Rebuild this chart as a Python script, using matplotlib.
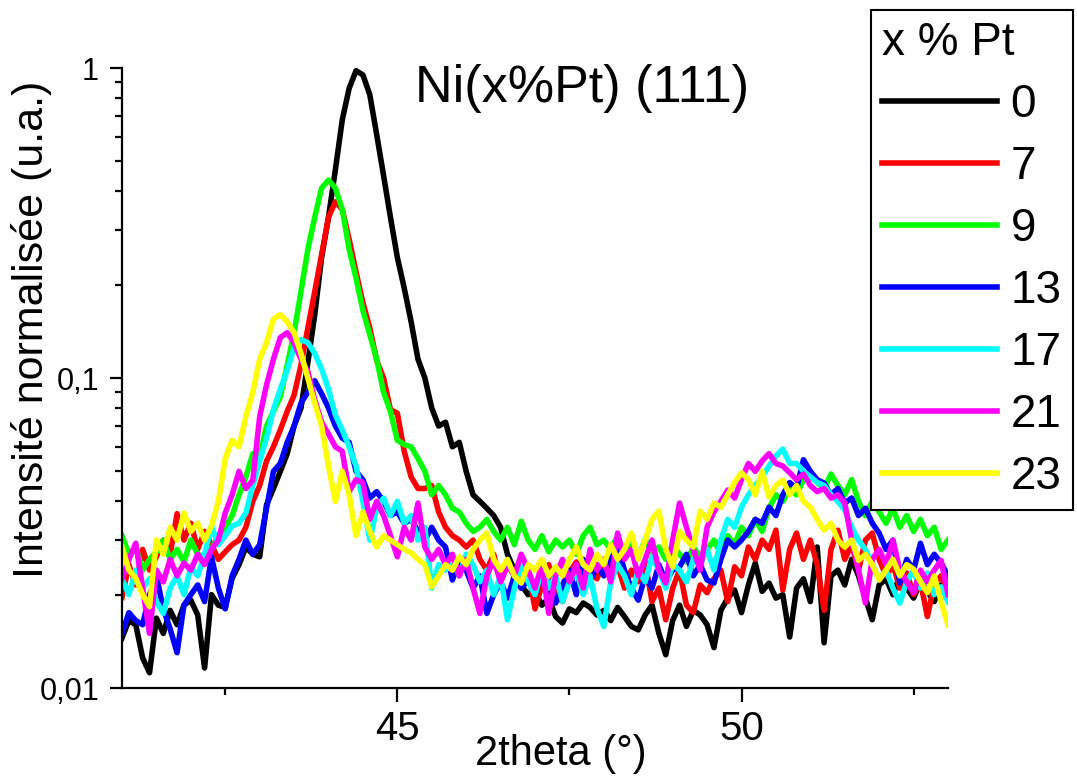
import numpy as np
import matplotlib
matplotlib.use("Agg")
import matplotlib.pyplot as plt
from matplotlib.ticker import FixedLocator, FixedFormatter, LogLocator, NullFormatter

plt.rcParams['font.family'] = ['Liberation Sans', 'DejaVu Sans']

# 2theta grid (deg), 41.0 -> 53.0 step 0.1
two_theta = np.round(np.linspace(41.0, 53.0, 121), 1)

# normalised intensities, one list per Pt content
i_0 = [0.0145, 0.0165, 0.0160, 0.0125, 0.0112, 0.0168, 0.0150, 0.0178, 0.0160, 0.0185,
       0.0192, 0.0172, 0.0116, 0.0200, 0.0185, 0.0182, 0.0226, 0.0250, 0.0285, 0.0270,
       0.0265, 0.0390, 0.0440, 0.0500, 0.0570, 0.0700, 0.0800, 0.1120, 0.1600, 0.2450,
       0.3300, 0.4700, 0.6800, 0.8600, 0.9800, 0.9500, 0.8200, 0.6100, 0.4500, 0.3300,
       0.2450, 0.1950, 0.1520, 0.1150, 0.1000, 0.0800, 0.0700, 0.0720, 0.0600, 0.0620,
       0.0500, 0.0420, 0.0400, 0.0380, 0.0360, 0.0330, 0.0270, 0.0240, 0.0215, 0.0200,
       0.0205, 0.0185, 0.0195, 0.0170, 0.0162, 0.0180, 0.0175, 0.0188, 0.0182, 0.0172,
       0.0178, 0.0165, 0.0182, 0.0170, 0.0158, 0.0154, 0.0172, 0.0185, 0.0150, 0.0128,
       0.0165, 0.0185, 0.0158, 0.0178, 0.0172, 0.0160, 0.0135, 0.0178, 0.0195, 0.0207,
       0.0175, 0.0215, 0.0253, 0.0205, 0.0218, 0.0195, 0.0200, 0.0146, 0.0210, 0.0225,
       0.0190, 0.0285, 0.0140, 0.0230, 0.0240, 0.0215, 0.0260, 0.0230, 0.0195, 0.0166,
       0.0215, 0.0225, 0.0200, 0.0230, 0.0210, 0.0195, 0.0220, 0.0205, 0.0190, 0.0215,
       0.0200]

i_7 = [0.0196, 0.0250, 0.0215, 0.0280, 0.0240, 0.0265, 0.0300, 0.0270, 0.0365, 0.0300,
       0.0340, 0.0280, 0.0320, 0.0290, 0.0260, 0.0275, 0.0290, 0.0300, 0.0330, 0.0400,
       0.0450, 0.0540, 0.0600, 0.0680, 0.0780, 0.0880, 0.1100, 0.1450, 0.1900, 0.2500,
       0.3300, 0.3700, 0.3500, 0.2800, 0.2200, 0.1750, 0.1450, 0.1140, 0.1000, 0.0790,
       0.0770, 0.0580, 0.0480, 0.0440, 0.0440, 0.0450, 0.0370, 0.0330, 0.0310, 0.0300,
       0.0285, 0.0300, 0.0260, 0.0240, 0.0270, 0.0220, 0.0250, 0.0230, 0.0210, 0.0240,
       0.0180, 0.0215, 0.0250, 0.0200, 0.0190, 0.0235, 0.0255, 0.0215, 0.0240, 0.0225,
       0.0260, 0.0230, 0.0250, 0.0210, 0.0240, 0.0220, 0.0255, 0.0190, 0.0210, 0.0166,
       0.0210, 0.0240, 0.0185, 0.0175, 0.0215, 0.0203, 0.0225, 0.0240, 0.0190, 0.0246,
       0.0230, 0.0285, 0.0260, 0.0300, 0.0280, 0.0323, 0.0207, 0.0280, 0.0316, 0.0260,
       0.0300, 0.0250, 0.0178, 0.0280, 0.0323, 0.0260, 0.0290, 0.0240, 0.0300, 0.0316,
       0.0260, 0.0230, 0.0250, 0.0210, 0.0235, 0.0200, 0.0220, 0.0170, 0.0215, 0.0230,
       0.0205]

i_9 = [0.0310, 0.0270, 0.0285, 0.0240, 0.0260, 0.0275, 0.0300, 0.0260, 0.0280, 0.0255,
       0.0300, 0.0270, 0.0265, 0.0280, 0.0310, 0.0330, 0.0360, 0.0420, 0.0480, 0.0570,
       0.0560, 0.0700, 0.0780, 0.0870, 0.1100, 0.1400, 0.1900, 0.2600, 0.3300, 0.4100,
       0.4350, 0.4100, 0.3500, 0.2600, 0.2100, 0.1650, 0.1380, 0.1150, 0.0900, 0.0780,
       0.0630, 0.0610, 0.0600, 0.0550, 0.0500, 0.0420, 0.0450, 0.0420, 0.0380, 0.0370,
       0.0340, 0.0320, 0.0330, 0.0350, 0.0320, 0.0300, 0.0330, 0.0290, 0.0345, 0.0300,
       0.0280, 0.0310, 0.0275, 0.0300, 0.0285, 0.0300, 0.0270, 0.0310, 0.0330, 0.0290,
       0.0300, 0.0280, 0.0310, 0.0270, 0.0290, 0.0265, 0.0300, 0.0275, 0.0285, 0.0260,
       0.0290, 0.0270, 0.0255, 0.0285, 0.0265, 0.0280, 0.0300, 0.0270, 0.0310, 0.0290,
       0.0330, 0.0310, 0.0350, 0.0320, 0.0380, 0.0420, 0.0400, 0.0440, 0.0420, 0.0470,
       0.0500, 0.0460, 0.0440, 0.0490, 0.0450, 0.0420, 0.0470, 0.0400, 0.0360, 0.0400,
       0.0370, 0.0340, 0.0380, 0.0330, 0.0360, 0.0320, 0.0350, 0.0310, 0.0330, 0.0280,
       0.0300]

i_13 = [0.0150, 0.0175, 0.0165, 0.0160, 0.0200, 0.0230, 0.0180, 0.0155, 0.0130, 0.0185,
        0.0200, 0.0215, 0.0190, 0.0265, 0.0210, 0.0180, 0.0230, 0.0260, 0.0300, 0.0270,
        0.0290, 0.0380, 0.0500, 0.0530, 0.0620, 0.0700, 0.0830, 0.0900, 0.0980, 0.0890,
        0.0800, 0.0700, 0.0640, 0.0620, 0.0500, 0.0470, 0.0410, 0.0430, 0.0400, 0.0360,
        0.0370, 0.0340, 0.0350, 0.0320, 0.0300, 0.0330, 0.0300, 0.0285, 0.0223, 0.0260,
        0.0240, 0.0210, 0.0230, 0.0174, 0.0200, 0.0220, 0.0195, 0.0230, 0.0210, 0.0223,
        0.0200, 0.0240, 0.0210, 0.0188, 0.0215, 0.0240, 0.0200, 0.0260, 0.0220, 0.0250,
        0.0230, 0.0260, 0.0285, 0.0240, 0.0210, 0.0192, 0.0230, 0.0210, 0.0250, 0.0220,
        0.0240, 0.0246, 0.0270, 0.0230, 0.0250, 0.0223, 0.0218, 0.0260, 0.0300, 0.0285,
        0.0300, 0.0320, 0.0350, 0.0340, 0.0383, 0.0360, 0.0420, 0.0460, 0.0440, 0.0545,
        0.0500, 0.0470, 0.0458, 0.0420, 0.0440, 0.0395, 0.0410, 0.0360, 0.0380, 0.0340,
        0.0316, 0.0280, 0.0300, 0.0218, 0.0260, 0.0240, 0.0293, 0.0250, 0.0270, 0.0253,
        0.0230]

i_17 = [0.0225, 0.0200, 0.0240, 0.0210, 0.0225, 0.0190, 0.0174, 0.0210, 0.0230, 0.0200,
        0.0245, 0.0230, 0.0270, 0.0333, 0.0290, 0.0310, 0.0333, 0.0340, 0.0367, 0.0450,
        0.0540, 0.0640, 0.0790, 0.0920, 0.1060, 0.1250, 0.1330, 0.1300, 0.1200, 0.1070,
        0.0920, 0.0760, 0.0680, 0.0600, 0.0520, 0.0400, 0.0300, 0.0380, 0.0410, 0.0360,
        0.0400, 0.0340, 0.0360, 0.0300, 0.0330, 0.0210, 0.0250, 0.0240, 0.0260, 0.0230,
        0.0270, 0.0250, 0.0220, 0.0240, 0.0200, 0.0230, 0.0166, 0.0210, 0.0250, 0.0220,
        0.0200, 0.0240, 0.0210, 0.0230, 0.0190, 0.0220, 0.0240, 0.0200, 0.0230, 0.0180,
        0.0158, 0.0220, 0.0250, 0.0230, 0.0200, 0.0240, 0.0220, 0.0265, 0.0240, 0.0210,
        0.0250, 0.0240, 0.0220, 0.0260, 0.0250, 0.0280, 0.0240, 0.0300, 0.0350, 0.0330,
        0.0383, 0.0420, 0.0450, 0.0480, 0.0520, 0.0560, 0.0590, 0.0530, 0.0530, 0.0500,
        0.0480, 0.0460, 0.0450, 0.0420, 0.0400, 0.0375, 0.0330, 0.0300, 0.0280, 0.0250,
        0.0224, 0.0240, 0.0210, 0.0188, 0.0220, 0.0240, 0.0210, 0.0235, 0.0200, 0.0212,
        0.0190]

i_21 = [0.0225, 0.0260, 0.0293, 0.0210, 0.0150, 0.0240, 0.0220, 0.0260, 0.0230, 0.0253,
        0.0240, 0.0270, 0.0250, 0.0280, 0.0300, 0.0367, 0.0420, 0.0500, 0.0440, 0.0468,
        0.0750, 0.0950, 0.1150, 0.1350, 0.1400, 0.1300, 0.1150, 0.1050, 0.0850, 0.0720,
        0.0660, 0.0600, 0.0580, 0.0430, 0.0470, 0.0460, 0.0350, 0.0400, 0.0360, 0.0310,
        0.0265, 0.0330, 0.0300, 0.0395, 0.0285, 0.0260, 0.0280, 0.0250, 0.0270, 0.0230,
        0.0260, 0.0210, 0.0174, 0.0230, 0.0260, 0.0220, 0.0250, 0.0230, 0.0270, 0.0240,
        0.0210, 0.0250, 0.0174, 0.0230, 0.0260, 0.0220, 0.0250, 0.0210, 0.0280, 0.0240,
        0.0260, 0.0220, 0.0316, 0.0260, 0.0280, 0.0230, 0.0260, 0.0300, 0.0240, 0.0218,
        0.0300, 0.0395, 0.0330, 0.0280, 0.0240, 0.0330, 0.0370, 0.0400, 0.0435, 0.0410,
        0.0470, 0.0530, 0.0500, 0.0540, 0.0570, 0.0530, 0.0520, 0.0495, 0.0470, 0.0490,
        0.0450, 0.0430, 0.0440, 0.0410, 0.0420, 0.0395, 0.0300, 0.0240, 0.0188, 0.0260,
        0.0280, 0.0250, 0.0300, 0.0240, 0.0220, 0.0203, 0.0240, 0.0220, 0.0240, 0.0258,
        0.0200]

i_23 = [0.0285, 0.0240, 0.0226, 0.0200, 0.0183, 0.0300, 0.0270, 0.0330, 0.0300, 0.0367,
        0.0320, 0.0340, 0.0300, 0.0333, 0.0400, 0.0550, 0.0630, 0.0600, 0.0750, 0.0900,
        0.1150, 0.1300, 0.1550, 0.1600, 0.1520, 0.1400, 0.1200, 0.1000, 0.0830, 0.0700,
        0.0520, 0.0400, 0.0500, 0.0420, 0.0310, 0.0370, 0.0320, 0.0285, 0.0310, 0.0300,
        0.0290, 0.0280, 0.0273, 0.0260, 0.0250, 0.0212, 0.0230, 0.0250, 0.0240, 0.0265,
        0.0250, 0.0280, 0.0300, 0.0316, 0.0260, 0.0240, 0.0260, 0.0230, 0.0218, 0.0250,
        0.0240, 0.0260, 0.0230, 0.0246, 0.0230, 0.0260, 0.0285, 0.0250, 0.0240, 0.0270,
        0.0250, 0.0290, 0.0260, 0.0280, 0.0316, 0.0260, 0.0300, 0.0350, 0.0372, 0.0280,
        0.0246, 0.0320, 0.0300, 0.0285, 0.0372, 0.0350, 0.0395, 0.0383, 0.0420, 0.0460,
        0.0495, 0.0470, 0.0420, 0.0500, 0.0413, 0.0450, 0.0468, 0.0420, 0.0450, 0.0400,
        0.0383, 0.0350, 0.0323, 0.0340, 0.0300, 0.0285, 0.0300, 0.0258, 0.0270, 0.0250,
        0.0223, 0.0240, 0.0260, 0.0230, 0.0250, 0.0242, 0.0220, 0.0203, 0.0230, 0.0190,
        0.0160]

pt_labels = ['0', '7', '9', '13', '17', '21', '23']
series = [i_0, i_7, i_9, i_13, i_17, i_21, i_23]
colors = ['#000000', '#ff0000', '#00ff00', '#0000ff', '#00ffff', '#ff00ff', '#ffff00']

W, H = 1077, 777
fig = plt.figure(figsize=(W / 100, H / 100), dpi=100)
ax = fig.add_axes([122 / W, 89 / H, 826 / W, 620 / H])

for y, lab, c in zip(series, pt_labels, colors):
    ax.plot(two_theta, y, color=c, lw=4.0, label=lab, solid_joinstyle='round')

ax.set_yscale('log')
ax.set_ylim(0.01, 1)
ax.set_xlim(41.0, 53.0)

ax.yaxis.set_major_locator(FixedLocator([0.01, 0.1, 1]))
ax.yaxis.set_major_formatter(FixedFormatter(['0,01', '0,1', '1']))
ax.yaxis.set_minor_locator(LogLocator(base=10, subs=np.arange(2, 10)))
ax.yaxis.set_minor_formatter(NullFormatter())
ax.xaxis.set_major_locator(FixedLocator([45, 50]))
ax.xaxis.set_minor_locator(FixedLocator([42.5, 47.5, 52.5]))

for s in ['top', 'right']:
    ax.spines[s].set_visible(False)
for s in ['left', 'bottom']:
    ax.spines[s].set_linewidth(1.6)

ax.tick_params(axis='x', which='major', direction='out', length=10, width=1.6,
               labelsize=29, pad=6)
ax.tick_params(axis='y', which='major', direction='out', length=8.5, width=1.6,
               labelsize=22, pad=8)
ax.tick_params(axis='both', which='minor', direction='out', length=5, width=1.6)

ax.set_xlabel('2theta (°)', fontsize=30)
ax.xaxis.set_label_coords((561 - 122) / 826, -0.075)
ax.set_ylabel('Intensité normalisée (u.a.)', fontsize=31)
ax.yaxis.set_label_coords(-0.085, (688 - 329) / 620)

ax.text((415 - 122) / 826, (688 - 102) / 620, 'Ni(x%Pt) (111)', fontsize=37.5,
        transform=ax.transAxes, va='baseline', ha='left')

leg = ax.legend(title='x % Pt', fontsize=33, title_fontsize=33, loc='upper right',
                bbox_to_anchor=(1073 / W, 1 - 10 / H), bbox_transform=fig.transFigure,
                frameon=True, fancybox=False, borderaxespad=0, borderpad=0.25,
                handlelength=2.5, handletextpad=0.3, labelspacing=0.39,
                alignment='left')
leg.get_frame().set_edgecolor('black')
leg.get_frame().set_linewidth(1.5)
leg.get_frame().set_alpha(1)

fig.savefig('out.png', dpi=100)
